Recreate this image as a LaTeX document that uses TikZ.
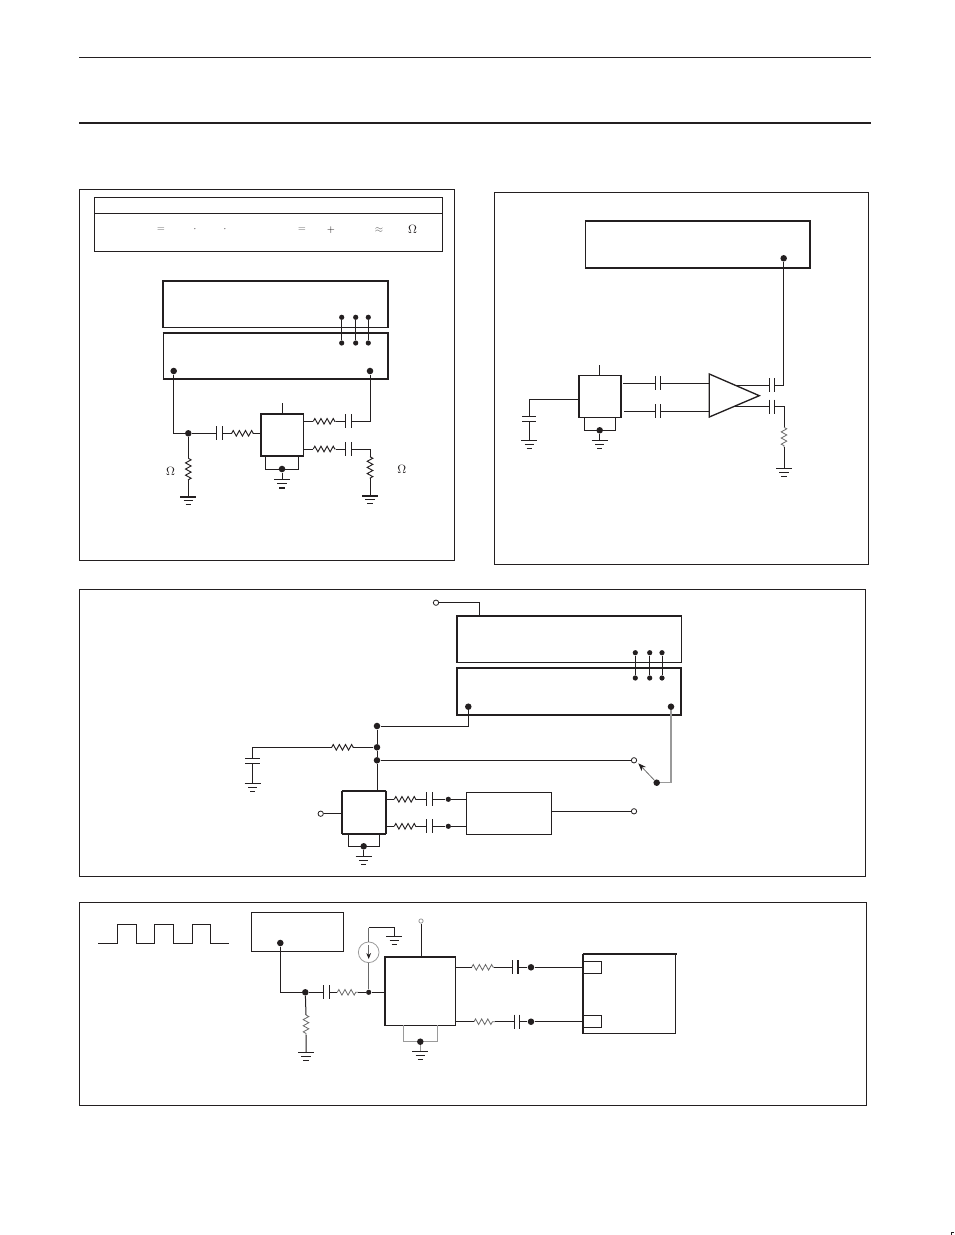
\documentclass[tikz,border=0pt]{standalone}
\usetikzlibrary{fit,arrows.meta,decorations.pathmorphing}
\definecolor{ink}{HTML}{231F20}
\definecolor{faint}{HTML}{9A9A9A}
\definecolor{midg}{HTML}{6A6A6A}
\tikzset{
  wire/.style={draw=ink,line width=0.75pt},
  frame/.style={draw=ink,line width=0.75pt,fit={#1},inner sep=0pt},
  blk/.style={draw=ink,line width=0.8pt,fit={#1},inner sep=0pt},
  edge/.style={draw=ink,line width=1.3pt,shorten >=-0.2pt,shorten <=-0.2pt},
  thinblk/.style={draw=ink,line width=0.85pt,fit={#1},inner sep=0pt},
  zig/.style={draw=ink,line width=0.7pt,decorate,decoration={zigzag,segment length=4.6pt,amplitude=2.1pt}},
  zigf/.style={draw=midg,line width=0.6pt,decorate,decoration={zigzag,segment length=4.6pt,amplitude=2.1pt}},
  jdot/.style={circle,fill=ink,inner sep=0pt,minimum size=4.9pt},
  sdot/.style={circle,fill=ink,inner sep=0pt,minimum size=3.9pt},
  odot/.style={circle,draw=ink,fill=white,line width=0.6pt,inner sep=0pt,minimum size=4pt},
  sym/.style={text=ink,font=\fontsize{7.5}{8}\selectfont,inner sep=0pt},
  ohm/.style={text=ink,font=\fontsize{9}{10}\selectfont,inner sep=0pt},
}
\newcommand\JN[1]{\draw[edge] (#1.north west) -- (#1.north east);}
\newcommand\JS[1]{\draw[edge] (#1.south west) -- (#1.south east);}
\newcommand\JE[1]{\draw[edge] (#1.north east) -- (#1.south east);}
\newcommand\JW[1]{\draw[edge] (#1.north west) -- (#1.south west);}
\newcommand\JH[4]{\coordinate (#1a) at (#2,#4);\coordinate (#1b) at (#3,#4);\draw[zig] (#1a) -- (#1b);}
\newcommand\JHf[4]{\coordinate (#1a) at (#2,#4);\coordinate (#1b) at (#3,#4);\draw[zigf] (#1a) -- (#1b);}
\newcommand\JV[4]{\coordinate (#1a) at (#2,#3);\coordinate (#1b) at (#2,#4);\draw[zig] (#1a) -- (#1b);}
\newcommand\JVf[4]{\coordinate (#1a) at (#2,#3);\coordinate (#1b) at (#2,#4);\draw[zigf] (#1a) -- (#1b);}
\newcommand\JC[4]{\coordinate (#1a) at (#2,#4);\coordinate (#1b) at (#3,#4);
  \draw[wire,line width=0.9pt] (#2,#4-7) -- (#2,#4+7) (#3,#4-7) -- (#3,#4+7);}
\newcommand\JG[3]{\coordinate (#1) at (#2,#3);
  \draw[wire] (#2-8,#3) -- (#2+8,#3) (#2-4.7,#3+4.2) -- (#2+4.7,#3+4.2) (#2-2.6,#3+8) -- (#2+2.6,#3+8);}
\begin{document}
\begin{tikzpicture}[x=0.75pt,y=-0.75pt]
\useasboundingbox (0,0) rectangle (954,1235);
% page rules
\coordinate (ruleAl) at (79,57.5);\coordinate (ruleAr) at (871,57.5);
\coordinate (ruleBl) at (79,123);\coordinate (ruleBr) at (871,123);
\draw[wire,line width=0.5pt] (ruleAl) -- (ruleAr);
\draw[wire,line width=1.3pt] (ruleBl) -- (ruleBr);
% page-edge mark
\draw[ink,line width=1pt] (951.5,1235) -- (951.5,1232.3) -- (954,1232.3);

%%% PANEL 1
\node[frame={(79.5,189.5)(454.5,560.5)}] (f1) {};
\node[thinblk={(94.7,197.7)(442.3,251.3)}] (tab) {};
\coordinate (tabl) at (94.7,213.3);\coordinate (tabr) at (442.3,213.3);
\draw[wire] (tabl) -- (tabr);
\node[sym,text=midg] (s1) at (161,230) {$=$};
\node[sym] (s2) at (195,229) {$\cdot$};
\node[sym] (s3) at (225,229) {$\cdot$};
\node[sym,text=midg] (s4) at (302,230) {$=$};
\node[sym] (s5) at (331,230) {$+$};
\node[sym,text=midg] (s6) at (379,230) {$\approx$};
\node[ohm] (s7) at (412.5,229.5) {$\Omega$};
\node[ohm] (s8) at (170.7,471.7) {$\Omega$};
\node[ohm] (s9) at (401.7,469) {$\Omega$};
\node[blk={(163,281)(388,327.3)}] (a1) {};
\JN{a1}\JW{a1}\JE{a1}
\node[blk={(163.5,333)(387.5,379)}] (a2) {};
\JN{a2}\JE{a2}\JS{a2}
\foreach \n/\x in {1/341.7,2/355.7,3/368.3}{
  \node[sdot] (at\n) at (\x,317.3) {};
  \node[sdot] (ab\n) at (\x,343) {};
  \draw[wire] (at\n) -- (ab\n);
}
\node[jdot] (al) at (173.7,371) {};
\node[jdot] (ar) at (370,371) {};
\node[jdot] (aj) at (188.3,433.3) {};
\node[blk={(261.7,414)(303.3,455.7)}] (ax) {};
\JN{ax}\JS{ax}\JW{ax}
\coordinate (axs) at (282.7,403);
\draw[wire] (axs) -- (axs |- ax.north);
\draw[wire] (al) |- (aj);
\JC{ac1}{216.7}{222.7}{433.3}
\JH{ar1}{231.7}{253.3}{433.3}
\draw[wire] (aj) -- (ac1a) (ac1b) -- (ar1a) (ar1b) -- (ax.west |- ar1b);
\JH{ar2}{313.3}{335.5}{421.3}
\JC{ac2}{345.7}{351.7}{421.3}
\draw[wire] (ax.east |- ar2a) -- (ar2a) (ar2b) -- (ac2a) (ac2b) -| (ar);
\JH{ar3}{313.3}{335.5}{449}
\JC{ac3}{345.7}{351.7}{449}
\JV{ar4}{370}{456.7}{478.3}
\JG{ag3}{370}{495.7}
\draw[wire,line width=1.2pt] (362,495.7) -- (378,495.7);
\draw[wire] (ax.east |- ar3a) -- (ar3a) (ar3b) -- (ac3a) (ac3b) -| (ar4a) (ar4b) -- (ag3);
\JV{ar5}{188.3}{458.3}{480}
\JG{ag1}{188.3}{496.7}
\draw[wire,line width=1.2pt] (180.3,496.7) -- (196.3,496.7);
\draw[wire] (aj) -- (ar5a) (ar5b) -- (ag1);
\node[jdot] (ag) at (282,469) {};
\JG{ag2}{282}{479.7}
\draw[wire,line width=1.2pt] (279.4,487.7) -- (284.6,487.7);
\draw[wire] (265.7,455.7) -- (265.7,469) -- (298.3,469) -- (298.3,455.7);
\draw[wire] (ag) -- (ag2);

%%% PANEL 2
\node[frame={(494.5,192.5)(868.5,564.5)}] (f2) {};
\node[blk={(585.7,221)(810,268)}] (b1) {};
\JN{b1}\JE{b1}\JS{b1}
\node[jdot] (bd) at (783.7,258.3) {};
\draw[wire,line width=1pt] (709.3,374) -- (759.3,395.7) -- (709.3,417) -- cycle;
\JC{bc1}{769.3}{774.3}{385}
\JC{bc2}{769.3}{774.3}{406.7}
\draw[wire] (736.7,385) -- (bc1a) (bc1b) -| (bd);
\JVf{br}{784}{427.3}{447.3}
\JG{bg3}{784}{468.3}
\draw[wire] (735,406.7) -- (bc2a) (bc2b) -| (bra) (brb) -- (bg3);
\node[blk={(579,375.7)(621,417.3)}] (bx) {};
\JW{bx}\JE{bx}
\coordinate (bxs) at (599.7,365);
\draw[wire] (bxs) -- (bxs |- bx.north);
\JC{bc3}{655.3}{660.7}{383.3}
\JC{bc4}{655.3}{660.7}{411.3}
\coordinate (bo1) at (623,383.3);\coordinate (bo2) at (624.3,411.3);
\coordinate (bi1) at (709.3,383.3);\coordinate (bi2) at (709.3,411.3);
\draw[wire] (bo1) -- (bc3a) (bc3b) -- (bi1) (bo2) -- (bc4a) (bc4b) -- (bi2);
\coordinate (bk) at (529.3,399.3);
\draw[wire] (bx.west |- bk) -- (bk) -- (529.3,416.7);
\draw[wire,line width=0.9pt] (522,416.7) -- (536,416.7) (522,421.3) -- (536,421.3);
\JG{bg1}{529.3}{440.3}
\draw[wire] (529.3,421.3) -- (bg1);
\draw[wire] (584.3,417.3) -- (584.3,430.3) -- (615.3,430.3) -- (615.3,417.3);
\node[jdot] (bj) at (599.7,430.3) {};
\JG{bg2}{599.7}{440.3}
\draw[wire] (bj) -- (bg2);

%%% PANEL 3
\node[frame={(79.5,589.5)(865.5,876.5)}] (f3) {};
\node[odot] (cin) at (436,602.7) {};
\node[blk={(457,616)(681.3,662.3)}] (c1) {};
\JN{c1}\JW{c1}
\node[blk={(457,668)(681,715)}] (c2) {};
\JN{c2}\JE{c2}\JS{c2}\JW{c2}
\coordinate (cint) at (479.3,616);
\draw[wire] (cin) -| (cint);
\foreach \n/\x in {1/635.3,2/649.7,3/662}{
  \node[sdot] (ct\n) at (\x,652.7) {};
  \node[sdot] (cb\n) at (\x,678) {};
  \draw[wire] (ct\n) -- (cb\n);
}
\node[jdot] (cl) at (468.3,706.7) {};
\node[jdot] (cr) at (671,706.7) {};
\node[jdot] (cj1) at (377,726) {};
\node[jdot] (cj2) at (377,747.3) {};
\node[jdot] (cj3) at (377,760.3) {};
\node[blk={(342.7,791.3)(385.3,833.3)}] (cx) {};
\JN{cx}\JW{cx}\JE{cx}\JS{cx}
\draw[wire] (cl) |- (cj1);
\draw[wire] (cj1) -- (cj2) -- (cj3) -- (cj3 |- cx.north);
\JH{cr1}{331.7}{354}{747.3}
\coordinate (ck) at (252.7,747.3);
\draw[wire] (cj2) -- (cr1b) (cr1a) -- (ck) -- (252.7,758.7);
\draw[wire,line width=0.9pt] (245.3,758.7) -- (260,758.7) (245.3,763.3) -- (260,763.3);
\JG{cg1}{252.7}{783.3}
\draw[wire,line width=1.2pt] (250.1,791.3) -- (255.3,791.3);
\draw[wire] (252.7,763.3) -- (cg1);
\node[odot] (csw) at (634,760.3) {};
\draw[wire] (cj3) -- (csw);
\node[jdot] (csd) at (656.7,782.7) {};
\coordinate (csa) at (638.3,763.3);
\draw[draw=faint,line width=0.8pt] (cr) |- (csd);
\draw[draw=midg,line width=0.6pt,-{Stealth[length=6pt,width=4.5pt,color=ink]}] (csd) -- (csa);
\node[odot] (cinp) at (320.7,813.7) {};
\draw[wire] (cinp) -- (cx.west |- cinp);
\node[thinblk={(466.3,792.3)(551.7,834.3)}] (cd) {};
\JH{cr2}{394.3}{416}{799.3}
\JC{cc2}{426.7}{432.3}{799.3}
\node[sdot] (cd2) at (448.3,799.3) {};
\JH{cr3}{394.3}{416}{826.3}
\JC{cc3}{426.7}{432.3}{826.3}
\node[sdot] (cd3) at (448.3,826.3) {};
\draw[wire] (cx.east |- cr2a) -- (cr2a) (cr2b) -- (cc2a) (cc2b) -- (cd2) -- (cd.west |- cd2);
\draw[wire] (cx.east |- cr3a) -- (cr3a) (cr3b) -- (cc3a) (cc3b) -- (cd3) -- (cd.west |- cd3);
\node[odot] (cout) at (634,811.3) {};
\draw[wire] (cd.east |- cout) -- (cout);
\draw[wire] (348.3,833.3) -- (348.3,846.3) -- (379.3,846.3) -- (379.3,833.3);
\node[jdot] (cj4) at (363.7,846.3) {};
\JG{cg2}{363.7}{856.3}
\draw[wire] (cj4) -- (cg2);

%%% PANEL 4
\node[frame={(79.5,902.5)(866.5,1105.5)}] (f4) {};
\coordinate (wa) at (98.3,943);\coordinate (wb) at (229,943);
\draw[wire] (wa) -- (117.3,943) -- (117.3,924.3) -- (136.7,924.3) -- (136.7,943) -- (154.3,943) -- (154.3,924.3) -- (173.7,924.3) -- (173.7,943) -- (192.3,943) -- (192.3,924.3) -- (210.7,924.3) -- (210.7,943) -- (wb);
\node[thinblk={(251.7,912.7)(343.3,951.3)}] (d1) {};
\node[jdot] (dd) at (280.3,943) {};
\node[jdot] (dj) at (305.3,992.3) {};
\draw[wire] (dd) |- (dj);
\JC{dc1}{323.7}{329.3}{992.3}
\JHf{dr1}{337.3}{358.3}{992.3}
\node[sdot] (dj2) at (368.7,992.3) {};
\node[blk={(385,957.7)(455.3,1025.3)}] (dx) {};
\JN{dx}\JW{dx}
\draw[wire] (dj) -- (dc1a) (dc1b) -- (dr1a) (dr1b) -- (dj2) -- (dx.west |- dj2);
\node[circle,draw=faint,line width=0.6pt,minimum size=15.5pt,inner sep=0pt] (ds) at (368.7,952.3) {};
\JG{dg1}{394.3}{936}
\draw[draw=midg,line width=0.7pt] (dj2) -- (ds);
\draw[draw=midg,line width=0.7pt] (ds) -- (368.7,927.7);
\draw[wire] (368.7,927.7) -- (394.3,927.7) -- (dg1);
\coordinate (dsa) at (368.7,945);\coordinate (dsb) at (368.7,959);
\draw[draw=midg,line width=0.6pt,-{Stealth[length=4.5pt,width=3.5pt,color=ink]}] (dsa) -- (dsb);
\node[odot,minimum size=3.2pt,draw=faint] (dv) at (421,921) {};
\draw[wire] (dv) -- (dv |- dx.north);
\draw[draw=faint,line width=0.85pt] (403.3,1025.3) -- (403.3,1041.7) -- (437.7,1041.7) -- (437.7,1025.3);
\node[jdot] (dj3) at (420.3,1041.7) {};
\JG{dg2}{420.3}{1051}
\draw[draw=faint,line width=0.7pt] (dj3) -- (dg2);
\JVf{dr2}{306}{1015}{1035}
\JG{dg3}{306}{1052.3}
\draw[wire] (dj) -- (dr2a) (dr2b) -- (dg3);
\node[thinblk={(583.7,954.7)(675.7,1033.3)}] (dr) {};
\JN{dr}\JW{dr}
\node[thinblk={(583.7,961.3)(601.7,973.3)}] (dp1) {};
\node[thinblk={(583.7,1015.3)(601.7,1027.3)}] (dp2) {};
\JHf{dr3}{471.7}{494}{967.3}
\JC{dc3}{512.7}{518}{967.3}
\node[jdot] (dj4) at (531,967.3) {};
\JHf{dr4}{474}{495}{1021.7}
\JC{dc4}{514.3}{519.7}{1021.7}
\node[jdot] (dj5) at (531,1021.7) {};
\draw[wire] (dx.east |- dr3a) -- (dr3a) (dr3b) -- (dc3a) (dc3b) -- (dj4) -- (dp1.west |- dj4);
\draw[wire] (dx.east |- dr4a) -- (dr4a) (dr4b) -- (dc4a) (dc4b) -- (dj5) -- (dp2.west |- dj5);
\end{tikzpicture}
\end{document}
